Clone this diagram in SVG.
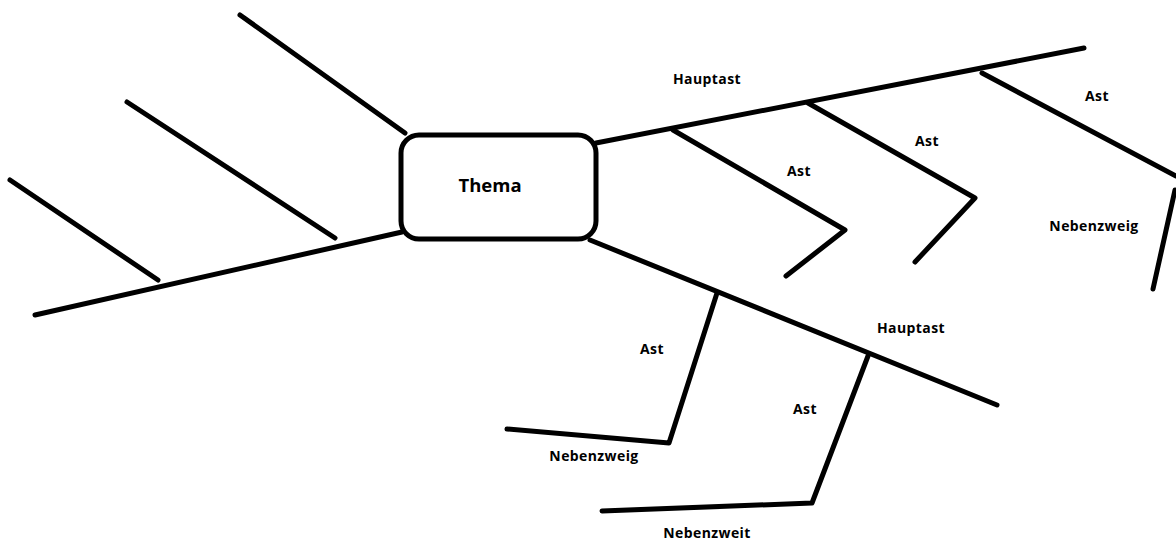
<svg xmlns="http://www.w3.org/2000/svg" width="1176" height="540" viewBox="0 0 1176 540">
<style>
.l{stroke:#000;stroke-width:5;fill:none;stroke-linecap:round;stroke-linejoin:round}
.t{font-family:"Open Sans","Liberation Sans",sans-serif;font-weight:bold;font-size:14px;letter-spacing:0.4px;fill:#000;text-anchor:middle}
.big{font-size:18.5px;letter-spacing:0}
</style>
<rect width="1176" height="540" fill="#fff"/>
<g id="connectors">
<polyline class="l" points="240,15 405,133"/>
<polyline class="l" points="127,102 335,238"/>
<polyline class="l" points="10,180 158,280"/>
<polyline class="l" points="35,315 402,232"/>
<polyline class="l" points="596,143 1084,48"/>
<polyline class="l" points="673,130 845,230 786,276"/>
<polyline class="l" points="808,103 975,198 915,262"/>
<polyline class="l" points="982,73 1176,176"/>
<polyline class="l" points="1175,190 1153,289"/>
<polyline class="l" points="590,240 997,405"/>
<polyline class="l" points="717,293 669,443 507,429"/>
<polyline class="l" points="868,356 812,503 602,511"/>
</g>
<g id="thema">
<rect class="l" x="401" y="135" width="195" height="104" rx="18"/>
<text class="t big" x="490" y="192">Thema</text>
</g>
<g id="labels">
<text class="t" x="707" y="84">Hauptast</text>
<text class="t" x="1097" y="101">Ast</text>
<text class="t" x="927" y="146">Ast</text>
<text class="t" x="799" y="176">Ast</text>
<text class="t" x="1094" y="231">Nebenzweig</text>
<text class="t" x="911" y="333">Hauptast</text>
<text class="t" x="652" y="354">Ast</text>
<text class="t" x="805" y="414">Ast</text>
<text class="t" x="594" y="461">Nebenzweig</text>
<text class="t" x="707" y="538">Nebenzweit</text>
</g>
</svg>
